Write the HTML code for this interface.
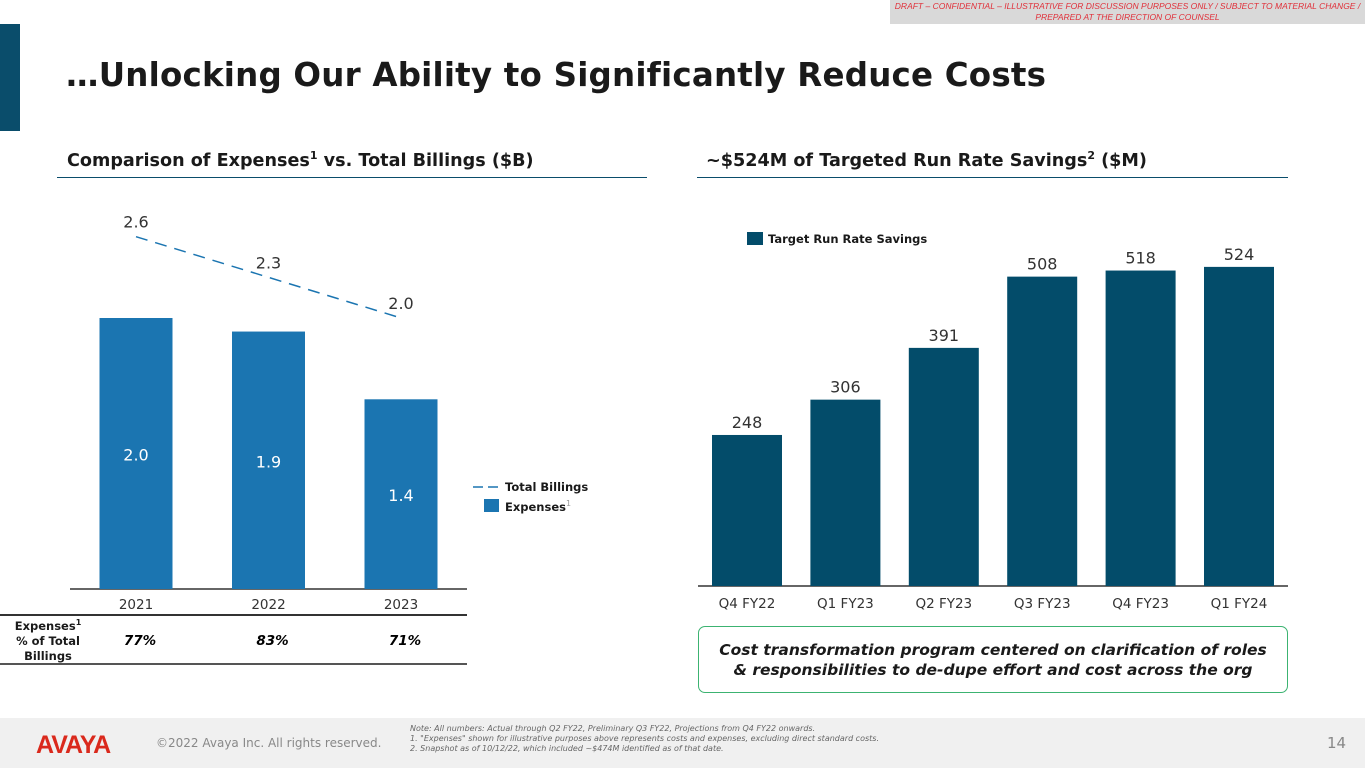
<!DOCTYPE html>
<html><head><meta charset="utf-8"><style>
body{margin:0;width:1365px;height:768px;position:relative;background:#fff;font-family:"DejaVu Sans","Liberation Sans",sans-serif;overflow:hidden;color:#1a1a1a}
.a{position:absolute}
</style></head><body>
<div class="a" style="left:890px;top:0;width:475px;height:23px;background:#d9d9d9;color:#e0303a;font:italic 8.5px 'Liberation Sans',sans-serif;text-align:center;line-height:11px;padding-top:1px">DRAFT – CONFIDENTIAL – ILLUSTRATIVE FOR DISCUSSION PURPOSES ONLY / SUBJECT TO MATERIAL CHANGE /<br>PREPARED AT THE DIRECTION OF COUNSEL</div>
<div class="a" style="left:0;top:24px;width:20px;height:107px;background:#0a4d6b"></div>
<div class="a" style="left:66px;top:56px;font-size:32.5px;font-weight:bold;white-space:nowrap;letter-spacing:0.2px">…Unlocking Our Ability to Significantly Reduce Costs</div>
<div class="a" style="left:67px;top:149px;font-size:17.6px;font-weight:bold;white-space:nowrap">Comparison of Expenses<sup style="font-size:11px">1</sup> vs. Total Billings ($B)</div>
<div class="a" style="left:57px;top:177px;width:590px;height:1px;background:#0a4d6b"></div>
<div class="a" style="left:706px;top:149px;font-size:17.6px;font-weight:bold;white-space:nowrap">~$524M of Targeted Run Rate Savings<sup style="font-size:11px">2</sup> ($M)</div>
<div class="a" style="left:697px;top:177px;width:591px;height:1px;background:#0a4d6b"></div>

<svg class="a" style="left:0;top:0" width="1365" height="768">
<g id="L"></g><g id="R"></g>
</svg>

<div class="a" style="left:0;top:619px;width:96px;text-align:center;font-size:11.5px;font-weight:bold;line-height:15px">Expenses<sup style="font-size:8px;line-height:0">1</sup><br>% of Total<br>Billings</div>
<div class="a" style="left:0;top:614px;width:467px;height:2px;background:#333"></div>
<div class="a" style="left:0;top:663px;width:467px;height:2px;background:#555"></div>
<div class="a" style="left:505px;top:480px;font-size:11.5px;font-weight:bold">Total Billings</div>
<div class="a" style="left:505px;top:499px;font-size:11.5px;font-weight:bold">Expenses<sup style="font-size:8px;color:#999;font-weight:normal">1</sup></div>
<div class="a" style="left:768px;top:232px;font-size:11.5px;font-weight:bold">Target Run Rate Savings</div>

<div class="a" style="left:698px;top:626px;width:588px;height:65px;border:1.5px solid #3cb371;border-radius:7px;display:flex;align-items:center;justify-content:center;text-align:center;font-size:15.5px;font-weight:bold;font-style:italic;line-height:20px">Cost transformation program centered on clarification of roles<br>&amp; responsibilities to de-dupe effort and cost across the org</div>

<div class="a" style="left:0;top:718px;width:1365px;height:50px;background:#f0f0f0"></div>
<div class="a" style="left:36px;top:731px;font:bold 25px 'Liberation Sans',sans-serif;color:#da291c;letter-spacing:-1px">AVAYA</div>
<div class="a" style="left:156px;top:736px;font-size:12px;color:#888">©2022 Avaya Inc. All rights reserved.</div>
<div class="a" style="left:410px;top:724px;font:italic 8px 'DejaVu Sans',sans-serif;color:#666;line-height:10px">Note: All numbers: Actual through Q2 FY22, Preliminary Q3 FY22, Projections from Q4 FY22 onwards.<br>1. "Expenses" shown for illustrative purposes above represents costs and expenses, excluding direct standard costs.<br>2. Snapshot as of 10/12/22, which included ~$474M identified as of that date.</div>
<div class="a" style="left:1327px;top:734px;font-size:15px;color:#888">14</div>

<script>
const years=["2021","2022","2023"];
const expenses=[2.0,1.9,1.4];
const billings=[2.6,2.3,2.0];
const pctLabels=["77%","83%","71%"];
const quarters=["Q4 FY22","Q1 FY23","Q2 FY23","Q3 FY23","Q4 FY23","Q1 FY24"];
const savings=[248,306,391,508,518,524];

const NS="http://www.w3.org/2000/svg";
function mk(p,t,a,txt){const e=document.createElementNS(NS,t);for(const k in a)e.setAttribute(k,a[k]);if(txt!=null)e.textContent=txt;p.appendChild(e);return e;}
const L=document.getElementById('L'),R=document.getElementById('R');
const lBase=589,lScale=135.5;
const ly=v=>lBase-v*lScale;
const lx=i=>136+i*132.5;
let e=mk(L,'line',{x1:70,x2:467,y1:lBase,y2:lBase,stroke:'#666','stroke-width':2});

expenses.forEach((v,i)=>{
 let b=mk(L,'rect',{x:lx(i)-36.5,y:ly(v),width:73,height:v*lScale,fill:'#1b75b1'});
 
 let t=mk(L,'text',{x:lx(i),y:ly(v)+v*lScale/2+7,'text-anchor':'middle','font-size':16,fill:'#fff','font-family':'DejaVu Sans'},v.toFixed(1));
 
 let yl=mk(L,'text',{x:lx(i),y:609,'text-anchor':'middle','font-size':13.5,fill:'#333','font-family':'DejaVu Sans'},years[i]);
 
 let p=mk(L,'text',{x:lx(i)+4,y:645,'text-anchor':'middle','font-size':13.5,'font-weight':'bold','font-style':'italic','font-family':'DejaVu Sans'},pctLabels[i]);
 
});
let pts=billings.map((v,i)=>lx(i)+','+ly(v)).join(' ');
e=mk(L,'polyline',{points:pts,fill:'none',stroke:'#1b75b1','stroke-width':1.5,'stroke-dasharray':'12,8'});

billings.forEach((v,i)=>{
 let t=mk(L,'text',{x:lx(i),y:ly(v)-9,'text-anchor':'middle','font-size':16,fill:'#333','font-family':'DejaVu Sans'},v.toFixed(1));
 
});
e=mk(L,'line',{x1:473,x2:499,y1:487,y2:487,stroke:'#1b75b1','stroke-width':1.5,'stroke-dasharray':'10,5'});

e=mk(L,'rect',{x:484,y:499,width:15,height:13,fill:'#1b75b1'});

const rBase=586,rScale=0.609;
const rx=i=>747+i*98.4;
e=mk(R,'line',{x1:698,x2:1288,y1:rBase,y2:rBase,stroke:'#666','stroke-width':2});

savings.forEach((v,i)=>{
 let b=mk(R,'rect',{x:rx(i)-35,y:rBase-v*rScale,width:70,height:v*rScale,fill:'#034c6a'});
 
 let t=mk(R,'text',{x:rx(i),y:rBase-v*rScale-7,'text-anchor':'middle','font-size':16,fill:'#333','font-family':'DejaVu Sans'},String(v));
 
 let q=mk(R,'text',{x:rx(i),y:608,'text-anchor':'middle','font-size':13.5,fill:'#333','font-family':'DejaVu Sans'},quarters[i]);
 
});
e=mk(R,'rect',{x:747,y:232,width:16,height:13,fill:'#034c6a'});

</script>
</body></html>
